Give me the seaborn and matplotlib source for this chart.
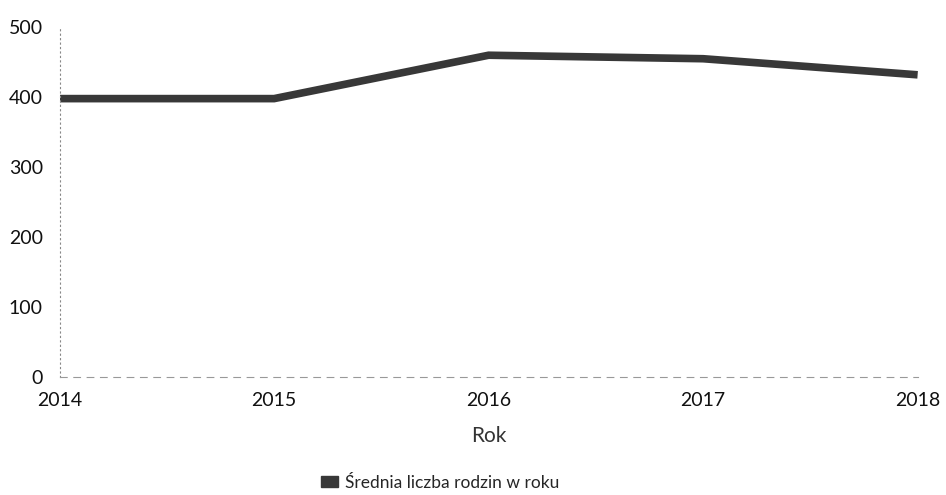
import matplotlib
matplotlib.use("Agg")
import pandas as pd
import seaborn as sns
from matplotlib import pyplot as plt
from matplotlib.patches import Patch

years = [2014, 2015, 2016, 2017, 2018]
families = [398, 398, 460, 455, 432]
series_name = "Średnia liczba rodzin w roku"
y_ticks = [0, 100, 200, 300, 400, 500]

LINE_COLOR = "#383838"

sns.set_theme(style="white")
plt.rcParams["font.family"] = ["Lato", "DejaVu Sans"]

df = pd.DataFrame({"Rok": years, "value": families})

fig = plt.figure(figsize=(9.46, 4.95), dpi=100)
ax = fig.add_axes([0.063, 0.238, 0.907, 0.707])

sns.lineplot(data=df, x="Rok", y="value", color=LINE_COLOR, linewidth=5.5, ax=ax,
             solid_capstyle="butt", solid_joinstyle="miter")

ax.set_xlim(years[0], years[-1])
ax.set_ylim(0, 500)
ax.set_xticks(years)
ax.set_xticklabels([str(y) for y in years])
ax.set_yticks(y_ticks)
ax.tick_params(axis="both", length=0, labelsize=14, colors="#111111")
ax.tick_params(axis="x", pad=11)
ax.tick_params(axis="y", pad=12)
ax.set_ylabel("")
ax.set_xlabel("Rok", fontsize=15, color="#333333", labelpad=12)

for side in ["top", "right"]:
    ax.spines[side].set_visible(False)
ax.spines["left"].set_linestyle((0, (1, 3)))
ax.spines["left"].set_color("#888888")
ax.spines["left"].set_linewidth(0.8)
ax.spines["bottom"].set_linestyle((0, (6, 6)))
ax.spines["bottom"].set_color("#999999")
ax.spines["bottom"].set_linewidth(0.8)

handle = Patch(facecolor=LINE_COLOR, edgecolor=LINE_COLOR)
fig.legend(handles=[handle], labels=[series_name], loc="center",
           bbox_to_anchor=(0.465, 0.025), frameon=False, fontsize=12.5,
           handlelength=1.0, handleheight=0.6, handletextpad=0.4)

fig.savefig("out.png", dpi=100)
